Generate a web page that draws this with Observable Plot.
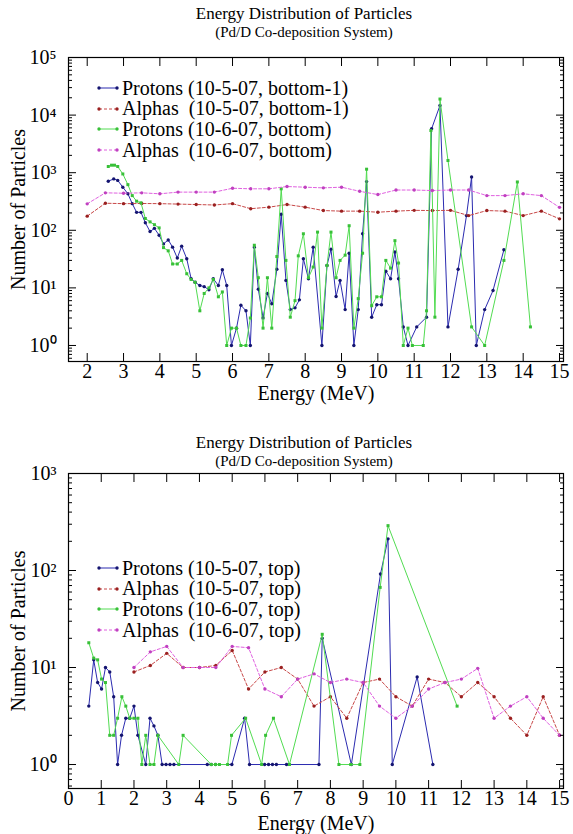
<!DOCTYPE html>
<html><head><meta charset="utf-8">
<script src="https://cdn.jsdelivr.net/npm/d3@7"></script>
<script src="https://cdn.jsdelivr.net/npm/@observablehq/plot@0.6"></script>
<style>
body{margin:0;background:#fff;}
#wrap{position:relative;width:573px;height:834px;font-family:'Liberation Serif',serif;overflow:hidden;background:#fff;}
#wrap svg.plot{position:absolute;left:0;}
.legend{position:absolute;left:97px;font-size:20px;color:#000;font-family:'Liberation Serif',serif;}
.legend .row{display:flex;align-items:center;height:20.6px;white-space:pre;}
.legend .row svg{margin-right:3px;}
</style></head><body><div id="wrap"></div>
<script>
// ---------- data: top panel (bottom detectors) ----------
const topP1E = [2.58,2.73,2.84,2.98,3.12,3.24,3.36,3.48,3.60,3.73,3.85,3.98,4.10,4.23,4.35,4.48,4.60,4.74,4.86,4.97,5.10,5.22,5.35,5.47,5.61,5.72,5.84,5.97,6.11,6.23,6.37,6.49,6.60,6.71,6.84,6.96,7.08,7.22,7.34,7.47,7.59,7.72,7.84,7.95,8.09,8.22,8.46,8.60,8.71,8.85,8.96,9.10,9.21,9.34,9.46,9.58,9.69,9.83,9.97,10.10,10.22,10.35,10.47,10.57,10.70,10.83,11.07,11.34,11.48,11.71,11.93,12.21,12.44,12.58,12.71,12.94,13.17,13.47];
const topP1N = [710,780,735,560,430,290,205,205,135,95,108,82,58,68,51,33,53,32,14.5,12.5,11,10.5,9.3,14.4,11,20.6,11,1,2,5,4,1,51,9.5,3,8,5.3,21,190,13.5,4.2,4.5,6.2,32,14.4,51,1,24.5,47,7.1,13.5,4.2,40,1,4.2,87,700,3.1,5.1,5.1,19.5,14.4,42,14.4,2.1,1,2.1,3.1,5800,14700,2.1,21,180,840,1,4.2,9,46];

const topP2E = [2.58,2.67,2.75,2.84,2.98,3.12,3.24,3.36,3.48,3.60,3.73,3.85,3.98,4.10,4.23,4.35,4.48,4.60,4.74,4.86,4.97,5.10,5.22,5.35,5.47,5.61,5.72,5.84,5.97,6.11,6.23,6.37,6.49,6.60,6.71,6.84,6.96,7.08,7.22,7.34,7.47,7.59,7.72,7.81,7.95,8.09,8.22,8.34,8.46,8.60,8.71,8.85,8.96,9.10,9.21,9.34,9.46,9.58,9.69,9.83,9.97,10.10,10.22,10.35,10.47,10.57,10.70,10.83,10.95,11.25,11.34,11.46,11.57,11.71,11.93,12.58,12.94,13.47,13.84,14.20];
const topP2N = [1280,1350,1350,1280,950,620,400,320,300,160,140,125,110,50,44,26,26,30,17.6,14,12.5,4,8,10,14,7,8.5,1,2,2,1,1,3,55,15,2,15,2,35,525,30,3.1,6,36,87,15,23,93,2,24.5,93,15,30,37,120,2,6.5,40,1150,4.9,7,7,30,22,66,27,1,2,1,1,4,5400,3.1,19000,1630,2.1,1,30,690,2.1];

const topAlphaE = [2.0,2.5,3.0,3.5,4.0,4.5,5.0,5.5,6.0,6.5,7.0,7.5,8.0,8.5,9.0,9.5,10.0,10.5,11.0,11.5,12.0,12.5,13.0,13.5,14.0,14.5,15.0];
const topA1N = [176,295,290,292,290,285,280,275,290,237,252,280,252,220,215,215,206,215,222,220,222,180,220,215,180,215,158];
const topA2N = [288,447,440,447,430,460,460,460,537,525,525,575,560,545,560,475,417,500,500,490,500,500,400,400,430,400,250];

// ---------- data: bottom panel (top detectors) ----------
const botP1E = [0.62,0.77,0.89,1.01,1.13,1.26,1.38,1.50,1.62,1.75,1.87,2.00,2.12,2.36,2.49,2.61,2.73,2.86,2.98,3.10,3.22,4.24,4.36,4.49,4.99,5.38,5.53,5.99,6.11,6.23,6.35,6.66,7.65,7.75,8.64,9.53,9.76,9.89,10.65,11.13];
const botP1N = [4,12,7,6,10,9,5,1,2,3,3,4,2,1,3,2.5,2,1,1,1,1,1,1,1,1,3,1,1,1,1,1,1,1,20,1,92,212,1,8,1];

const botP2E = [0.62,0.77,0.89,1.01,1.13,1.26,1.38,1.50,1.63,1.75,1.87,2.00,2.12,2.24,2.36,2.49,2.61,2.73,3.37,3.50,4.36,4.49,4.61,4.86,4.98,5.41,5.90,6.02,6.26,6.75,7.75,8.26,8.62,8.90,9.52,9.76,11.87];
const botP2N = [18,12.5,12,7.6,7,2,2,3,5,4,3,3,3,1,2,1,1,2,1,2,1,1,1,1,2,3,1,2,3,1,22,1,1,1,67,290,4];

const botAlphaE = [2.0,2.5,3.0,3.5,4.0,4.5,5.0,5.5,6.0,6.5,7.0,7.5,8.0,8.5,9.0,9.5,10.0,10.5,11.0,11.5,12.0,12.5,13.0,13.5,14.0,14.5,15.0];
const botA1N = [9,10.5,14,10,10,10.5,15,6,9,10,7.6,4,5,3,7,7.6,5,4,7.6,7,5,7,5,3,2,5,2];
const botA2N = [10,14.5,16.5,10,10,10,16.5,16,6,5,7.6,8.6,7,7.6,7,4,3,4,6,7,7.6,9.8,3,4,5,3,2];

// ---------- labels and ticks ----------
const titleText = "Energy Distribution of Particles";
const subtitleText = "(Pd/D Co-deposition System)";
const xLabelText = "Energy (MeV)";
const yLabelText = "Number of Particles";
const topXTicks = [2,3,4,5,6,7,8,9,10,11,12,13,14,15];
const botXTicks = [0,1,2,3,4,5,6,7,8,9,10,11,12,13,14,15];
const topYTicks = [1,10,100,1000,10000,100000];
const topYLabels = ["10\u2070","10\u00b9","10\u00b2","10\u00b3","10\u2074","10\u2075"];
const botYTicks = [1,10,100,1000];
const botYLabels = ["10\u2070","10\u00b9","10\u00b2","10\u00b3"];
const topLegend = ["Protons (10-5-07, bottom-1)","Alphas  (10-5-07, bottom-1)","Protons (10-6-07, bottom)","Alphas  (10-6-07, bottom)"];
const botLegend = ["Protons (10-5-07, top)","Alphas  (10-5-07, top)","Protons (10-6-07, top)","Alphas  (10-6-07, top)"];

// ---------- styles ----------
const styles = [
  {stroke:"#2b2bb0", fill:"#141470", dash:null, symbol:"circle"},
  {stroke:"#c84848", fill:"#9a2020", dash:"3,2", symbol:"circle"},
  {stroke:"#52dc52", fill:"#38c038", dash:null, symbol:"square"},
  {stroke:"#e060e0", fill:"#c040c0", dash:"3,2", symbol:"circle"}
];
const FONT = "'Liberation Serif', 'Times New Roman', serif";

function minorTicks(lo, hi) {
  const out = [];
  for (let e = Math.floor(Math.log10(lo)); e < Math.ceil(Math.log10(hi)); e++)
    for (let m = 2; m <= 9; m++) { const v = m * Math.pow(10, e); if (v >= lo && v <= hi) out.push(v); }
  return out;
}

function panel(cfg) {
  const marks = [];
  cfg.series.forEach((s, k) => {
    const st = styles[k];
    const data = s.x.map((x, i) => ({x, y: s.y[i]}));
    marks.push(Plot.line(data, {x: "x", y: "y", stroke: st.stroke, strokeWidth: 1, strokeDasharray: st.dash}));
    marks.push(Plot.dot(data, {x: "x", y: "y", fill: st.fill, r: 1.7, symbol: st.symbol, stroke: "none"}));
  });
  const minors = minorTicks(cfg.yDomain[0], cfg.yDomain[1]);
  const labelOf = (v) => cfg.yLabels[cfg.yTicks.indexOf(v)];
  marks.push(
    Plot.frame({stroke: "#000", strokeWidth: 1.2}),
    Plot.axisX(cfg.xTicks, {anchor: "bottom", tickSize: -8, tickPadding: 10, fontSize: 20, fontFamily: FONT, label: null, tickFormat: d => String(d)}),
    Plot.axisX(cfg.xTicks, {anchor: "top", tickSize: -8, fill: "none", label: null}),
    Plot.axisY(cfg.yTicks, {anchor: "left", tickSize: -8, tickPadding: 20, fontSize: 20, fontFamily: FONT, label: null, tickFormat: labelOf}),
    Plot.axisY(cfg.yTicks, {anchor: "right", tickSize: -8, fill: "none", label: null}),
    Plot.axisY(minors, {anchor: "left", tickSize: -4, fill: "none", label: null}),
    Plot.axisY(minors, {anchor: "right", tickSize: -4, fill: "none", label: null}),
    Plot.text([titleText], {frameAnchor: "top", lineAnchor: "middle", textAnchor: "middle", dx: -12, dy: cfg.titleDy, fontSize: 17, fontFamily: FONT}),
    Plot.text([subtitleText], {frameAnchor: "top", lineAnchor: "middle", textAnchor: "middle", dx: -12, dy: cfg.subDy, fontSize: 15, fontFamily: FONT}),
    Plot.text([xLabelText], {frameAnchor: "bottom", lineAnchor: "middle", textAnchor: "middle", dy: cfg.xLabelDy, fontSize: 20, fontFamily: FONT}),
    Plot.text([yLabelText], {frameAnchor: "left", lineAnchor: "middle", textAnchor: "middle", dx: -50, rotate: -90, fontSize: 20, fontFamily: FONT})
  );
  const svg = Plot.plot({
    width: 573, height: cfg.height,
    marginLeft: 68, marginRight: 10, marginTop: cfg.marginTop, marginBottom: cfg.marginBottom,
    style: {fontFamily: FONT, background: "transparent", color: "#000", overflow: "visible"},
    x: {domain: cfg.xDomain},
    y: {type: "log", domain: cfg.yDomain},
    marks
  });
  svg.classList.add("plot");
  svg.style.top = cfg.top + "px";
  return svg;
}

function legend(labels, top) {
  const div = document.createElement("div");
  div.className = "legend";
  div.style.top = top + "px";
  labels.forEach((lab, k) => {
    const st = styles[k];
    const row = document.createElement("div");
    row.className = "row";
    const sw = d3.create("svg").attr("width", 22).attr("height", 10);
    sw.append("line").attr("x1", 2).attr("x2", 20).attr("y1", 5).attr("y2", 5)
      .attr("stroke", st.stroke).attr("stroke-width", 1).attr("stroke-dasharray", st.dash);
    [2, 20].forEach(cx => sw.append("circle").attr("cx", cx).attr("cy", 5).attr("r", 1.7).attr("fill", st.fill));
    row.appendChild(sw.node());
    row.appendChild(document.createTextNode(lab));
    div.appendChild(row);
  });
  return div;
}

const wrap = document.getElementById("wrap");
wrap.appendChild(panel({
  top: 0, height: 410, marginTop: 57, marginBottom: 49,
  xDomain: [1.485, 15.11], yDomain: [0.527, 100000],
  xTicks: topXTicks, yTicks: topYTicks, yLabels: topYLabels,
  titleDy: -44, subDy: -25, xLabelDy: 32,
  series: [{x: topP1E, y: topP1N}, {x: topAlphaE, y: topA1N}, {x: topP2E, y: topP2N}, {x: topAlphaE, y: topA2N}]
}));
wrap.appendChild(panel({
  top: 410, height: 424, marginTop: 63, marginBottom: 46,
  xDomain: [0, 15.12], yDomain: [0.566, 1000],
  xTicks: botXTicks, yTicks: botYTicks, yLabels: botYLabels,
  titleDy: -31, subDy: -12, xLabelDy: 35,
  series: [{x: botP1E, y: botP1N}, {x: botAlphaE, y: botA1N}, {x: botP2E, y: botP2N}, {x: botAlphaE, y: botA2N}]
}));
wrap.appendChild(legend(topLegend, 78));
wrap.appendChild(legend(botLegend, 558));
</script></body></html>
